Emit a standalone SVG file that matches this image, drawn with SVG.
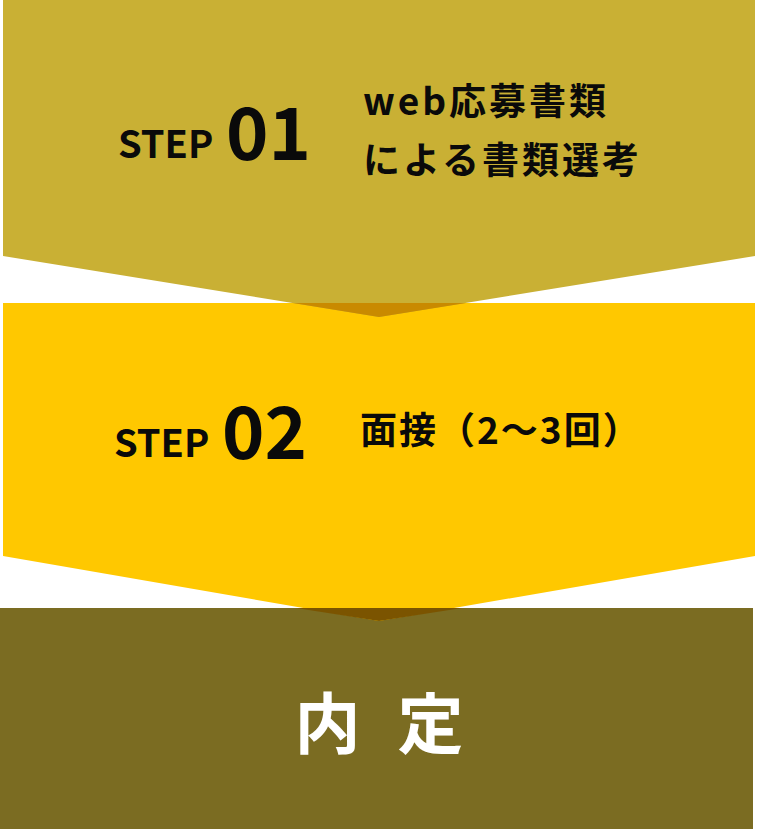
<svg xmlns="http://www.w3.org/2000/svg" width="757" height="829" viewBox="0 0 757 829">
<style>
.t{font-family:"Noto Sans CJK JP","Noto Sans",sans-serif;font-weight:700;fill:#0a0a0a}
.step{font-size:38px}
.num{font-size:72px}
.lbl{font-size:37px;letter-spacing:3px}
.fin{font-family:"Noto Sans CJK JP",sans-serif;font-weight:700;font-size:66px;fill:#fff}
</style>
<rect width="757" height="829" fill="#fff"/>
<g id="step3">
<rect x="0" y="608" width="753" height="221" fill="#7B6C22"/>
<text class="fin" x="379" y="748" text-anchor="middle">内<tspan dx="37">定</tspan></text>
</g>
<g id="step2">
<polygon points="3,303 755,303 755,556 379,621 3,556" fill="#FFC800"/>
<polygon points="296,608 462,608 379,621" fill="#7B5400"/>
<text class="t step" x="114" y="457">STEP</text>
<text class="t num" x="222" y="459">02</text>
<text class="t lbl" x="360" y="444" style="letter-spacing:2px">面接（2〜3回）</text>
</g>
<g id="step1">
<polygon points="3,0 755,0 755,256 379,317 3,256" fill="#C9B034"/>
<polygon points="293,303 466,303 379,317" fill="#C98A00"/>
<text class="t step" x="118" y="158">STEP</text>
<text class="t num" x="226" y="160">01</text>
<text class="t lbl" x="363" y="115">web応募書類</text>
<text class="t lbl" x="363" y="174">による書類選考</text>
</g>
<g id="connectors"/>
</svg>
